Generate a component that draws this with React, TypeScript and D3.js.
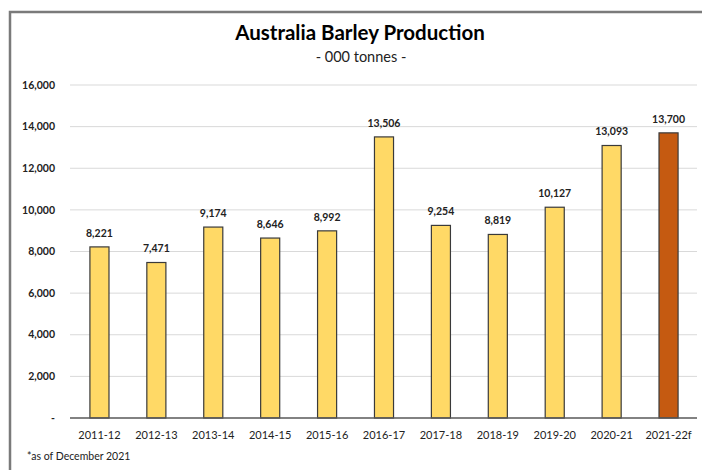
import React from "react";
import * as d3 from "d3";

const categories = ["2011-12","2012-13","2013-14","2014-15","2015-16","2016-17","2017-18","2018-19","2019-20","2020-21","2021-22f"];
const values = [8221, 7471, 9174, 8646, 8992, 13506, 9254, 8819, 10127, 13093, 13700];
const yTicks = [0, 2000, 4000, 6000, 8000, 10000, 12000, 14000, 16000];
const forecastIndex = 10;

const W = 702, H = 470;
const FONT = "Lato, 'Open Sans', sans-serif";

export default function App() {
  const x = d3.scaleBand<string>().domain(categories).range([71, 697]).paddingInner(0.665).paddingOuter(0.3325);
  const y = d3.scaleLinear().domain([0, 16000]).range([418, 85]);
  const fmt = d3.format(",");
  return (
    <svg width={W} height={H} style={{ position: "absolute", left: 0, top: 0, background: "#fff" }} fontFamily={FONT}>
      <rect x={10} y={12} width={W + 10} height={H + 10} fill="#fff" stroke="#7a7a7a" strokeWidth={2.5} />
      <text x={360} y={40} textAnchor="middle" fontSize={20.5} fontWeight="bold" fill="#000">Australia  Barley Production</text>
      <text x={361} y={62} textAnchor="middle" fontSize={14.5} fill="#222">- 000 tonnes -</text>
      {yTicks.map((t) => (
        <g key={t}>
          {t > 0 && <line x1={70} x2={697} y1={y(t)} y2={y(t)} stroke="#d9d9d9" strokeWidth={1} />}
          <text x={55} y={y(t)} dy="0.35em" textAnchor="end" fontSize={10.5} fontWeight="bold" fill="#222">{t === 0 ? "-" : fmt(t)}</text>
        </g>
      ))}
      {categories.map((c, i) => (
        <g key={c}>
          <rect x={x(c)} y={y(values[i])} width={x.bandwidth()} height={y(0) - y(values[i])}
            fill={i === forecastIndex ? "#C55A11" : "#FFD966"} stroke="#3a3a3a" strokeWidth={1.2} />
          <text x={(x(c) as number) + x.bandwidth() / 2} y={y(values[i]) - 14} dy="0.35em" textAnchor="middle" fontSize={10.5} fontWeight="bold" fill="#222">{fmt(values[i])}</text>
          <text x={(x(c) as number) + x.bandwidth() / 2} y={435} dy="0.35em" textAnchor="middle" fontSize={11} fill="#222">{c}</text>
        </g>
      ))}
      <line x1={70} x2={697} y1={y(0)} y2={y(0)} stroke="#595959" strokeWidth={1.3} />
      <text x={27} y={456} dy="0.35em" fontSize={10.5} fill="#222">*as of December 2021</text>
    </svg>
  );
}
